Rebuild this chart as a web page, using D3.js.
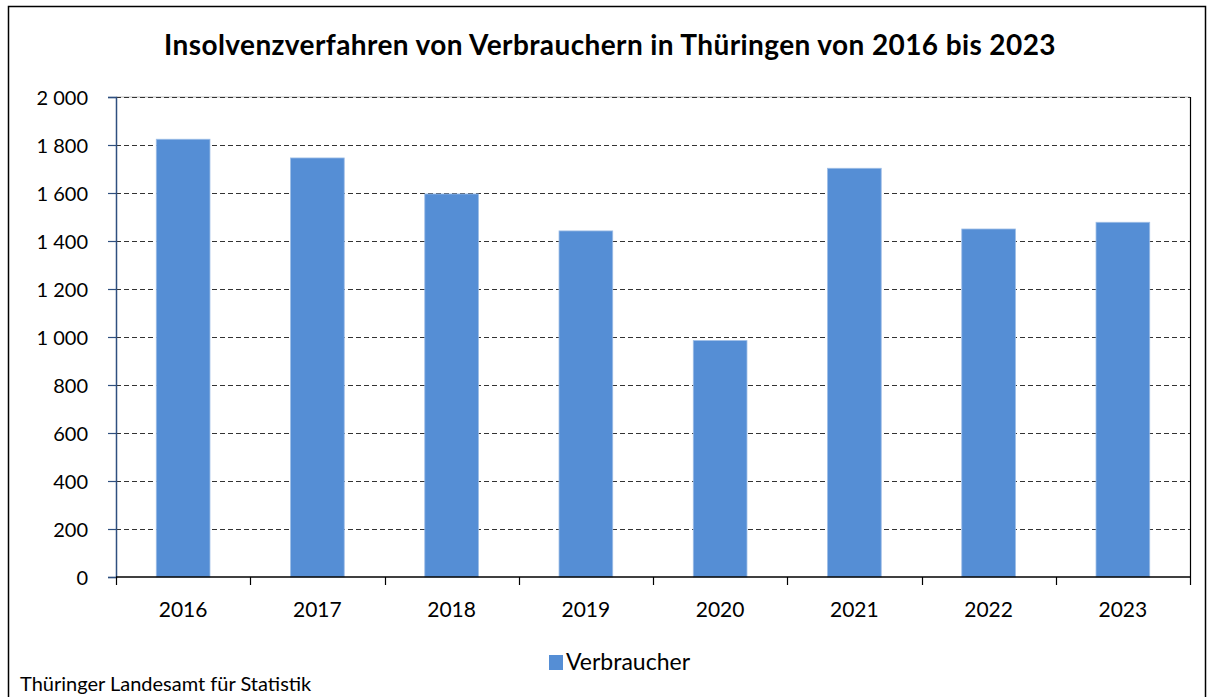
<!DOCTYPE html>
<html>
<head>
<meta charset="utf-8">
<script src="https://cdn.jsdelivr.net/npm/d3@7"></script>
<style>
  body { margin: 0; background: #fff; }
  text { font-family: Lato, "Noto Sans", sans-serif; fill: #000; }
</style>
</head>
<body>
<svg id="chart" width="1214" height="697"></svg>
<script>
// data
var years = ["2016", "2017", "2018", "2019", "2020", "2021", "2022", "2023"];
var consumers = [1824, 1746, 1596, 1442, 985, 1703, 1450, 1478];
var yTicks = [0, 200, 400, 600, 800, 1000, 1200, 1400, 1600, 1800, 2000];
var seriesName = "Verbraucher";

var svg = d3.select("#chart");
var plotLeft = 116, plotRight = 1190, plotTop = 97, plotBottom = 577;

var de = d3.formatLocale({ decimal: ",", thousands: " ", grouping: [3], currency: ["", " €"] });
var fmt = de.format(",d");

// outer frame
svg.append("rect")
  .attr("x", 8.5).attr("y", 6.5)
  .attr("width", 1197).attr("height", 720)
  .attr("fill", "none").attr("stroke", "#000").attr("stroke-width", 1.5);

svg.append("text")
  .attr("x", 610).attr("y", 55)
  .attr("text-anchor", "middle")
  .attr("font-size", "28px").attr("font-weight", "bold")
  .attr("letter-spacing", "0.4px")
  .text("Insolvenzverfahren von Verbrauchern in Thüringen von 2016 bis 2023");

var x = d3.scaleBand().domain(years).range([plotLeft, plotRight])
  .paddingInner(0.6).paddingOuter(0.3);
var y = d3.scaleLinear().domain([0, 2000]).range([plotBottom, plotTop]);

// top edge behind the 2000 gridline
svg.append("line")
  .attr("x1", plotLeft).attr("x2", plotRight)
  .attr("y1", y(2000)).attr("y2", y(2000))
  .attr("stroke", "#bbb").attr("stroke-width", 1);

// gridlines
svg.append("g")
  .selectAll("line")
  .data(yTicks.filter(function(d) { return d > 0; }))
  .enter().append("line")
  .attr("x1", plotLeft).attr("x2", plotRight)
  .attr("y1", function(d) { return Math.round(y(d)) + 0.5; })
  .attr("y2", function(d) { return Math.round(y(d)) + 0.5; })
  .attr("stroke", "#333").attr("stroke-width", 1.2)
  .attr("stroke-dasharray", "5,3");

// bars
svg.append("g")
  .selectAll("rect")
  .data(consumers)
  .enter().append("rect")
  .attr("x", function(d, i) { return x(years[i]); })
  .attr("y", function(d) { return y(d); })
  .attr("width", x.bandwidth())
  .attr("height", function(d) { return y(0) - y(d); })
  .attr("fill", "#558ed5")
  .attr("stroke", "#9dbde6").attr("stroke-width", 0.8);

// right frame of plot area
svg.append("line")
  .attr("x1", plotRight + 0.5).attr("x2", plotRight + 0.5)
  .attr("y1", plotTop).attr("y2", plotBottom)
  .attr("stroke", "#000").attr("stroke-width", 1.2);

// y axis
var yAxis = svg.append("g")
  .attr("transform", "translate(" + plotLeft + ",0)")
  .call(d3.axisLeft(y).tickValues(yTicks).tickSize(8).tickPadding(20).tickFormat(fmt));
yAxis.select(".domain").attr("stroke", "#2f4f7f").attr("stroke-width", 1.5);
yAxis.selectAll(".tick line").attr("stroke", "#2f4f7f").attr("stroke-width", 1.2);
yAxis.selectAll(".tick text")
  .attr("font-size", "20px").attr("font-family", "Lato, sans-serif")
  .attr("dy", "0.35em").attr("fill", "#000");

// x axis, ticks between categories
var step = x.step();
var xb = svg.append("g").attr("transform", "translate(0," + plotBottom + ")");
xb.append("line")
  .attr("x1", plotLeft).attr("x2", plotRight + 1)
  .attr("stroke", "#000").attr("stroke-width", 1.5);
xb.selectAll(".sep")
  .data(d3.range(years.length + 1))
  .enter().append("line")
  .attr("class", "sep")
  .attr("x1", function(i) { return Math.round(plotLeft + i * step) + 0.5; })
  .attr("x2", function(i) { return Math.round(plotLeft + i * step) + 0.5; })
  .attr("y1", 0).attr("y2", 8)
  .attr("stroke", "#000").attr("stroke-width", 1.2);
xb.selectAll(".lbl")
  .data(years)
  .enter().append("text")
  .attr("class", "lbl")
  .attr("x", function(d) { return x(d) + x.bandwidth() / 2; })
  .attr("y", 40)
  .attr("text-anchor", "middle")
  .attr("font-size", "21px")
  .text(function(d) { return d; });

// legend
var lg = svg.append("g").attr("transform", "translate(549,655)");
lg.append("rect").attr("width", 14).attr("height", 15).attr("fill", "#558ed5");
lg.append("text").attr("x", 17).attr("y", 15).attr("font-size", "23px").text(seriesName);

svg.append("text")
  .attr("x", 20).attr("y", 691)
  .attr("font-size", "20px")
  .text("Thüringer Landesamt für Statistik");
</script>
</body>
</html>
